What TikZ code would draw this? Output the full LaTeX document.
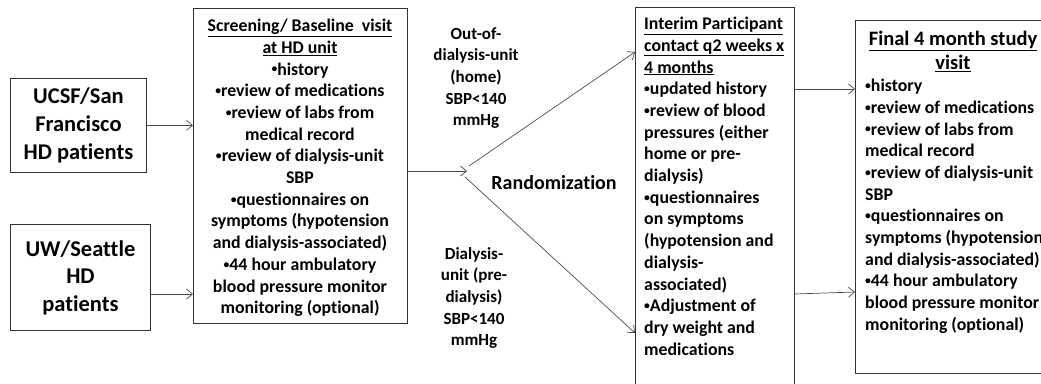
\documentclass[tikz,border=0pt]{standalone}
\usepackage{fontspec}
\setmainfont{Carlito}[Ligatures=NoCommon]
\usetikzlibrary{positioning,arrows.meta}
\newcommand{\bul}{\raisebox{0.25ex}{\scalebox{0.65}{•}}}
\tikzset{
  box/.style={draw=black!80, line width=0.9pt, anchor=north west, inner sep=0pt},
  body/.style={font=\bfseries\fontsize{17.8}{21.7}\selectfont, inner sep=0pt},
  lbl/.style={font=\bfseries\fontsize{17}{21.7}\selectfont, inner sep=0pt, align=center, anchor=north},
  arr/.style={-{Straight Barb[length=6pt,width=10pt]}, draw=black!70, line width=0.7pt},
}
\begin{document}
\begin{tikzpicture}[x=1pt,y=-1pt]
        \useasboundingbox (0,0) rectangle (1041,383);
        %% sites
        \node[box, minimum width=136pt, minimum height=94pt, align=center,
              font=\bfseries\fontsize{22.5}{28}\selectfont] (ucsf) at (10,78) {UCSF/San\\Francisco\\HD patients};
        \node[box, minimum width=140pt, minimum height=106pt, align=center,
              font=\bfseries\fontsize{22.5}{27.5}\selectfont] (uw) at (10,224) {UW/Seattle\\HD\\patients};
        
        %% screening visit
        \node[box, minimum width=214pt, minimum height=315pt] (screen) at (193,8) {};
        \node[body, align=center, anchor=north] (screentxt) at (300,19) {%
            \underline{Screening/ Baseline\ \ visit}\\
            \underline{at HD unit}\\
            \bul history\\
            \bul review of medications\\
            \bul review of labs from\\
            medical record\\
            \bul review of dialysis-unit\\
            SBP\\
            \bul questionnaires on\\
            symptoms (hypotension\\
            and dialysis-associated)\\
            \bul 44 hour ambulatory\\
            blood pressure monitor\\
            monitoring (optional)};
        
        %% randomization
        \coordinate (rand) at (467,171);
        \coordinate (randup) at (469,166);
        \coordinate (randdn) at (465,177);
        \node[font=\bfseries\fontsize{20}{24}\selectfont, inner sep=0pt] (randtxt) at (554,183) {Randomization};
        \node[lbl] (homelbl) at (476,27) {Out-of-\\dialysis-unit\\(home)\\SBP<140\\mmHg};
        \node[lbl] (unitlbl) at (474,247) {Dialysis-\\unit (pre-\\dialysis)\\SBP<140\\mmHg};
        
        %% interim contact
        \node[box, minimum width=159pt, minimum height=380pt] (interim) at (635,7) {};
        \node[body, align=left, anchor=north west] (interimtxt) at (644,17) {%
            \underline{Interim Participant}\\
            \underline{contact q2 weeks x}\\
            \underline{4 months}\\
            \bul updated history\\
            \bul review of blood\\
            pressures (either\\
            home or pre-\\
            dialysis)\\
            \bul questionnaires\\
            on symptoms\\
            (hypotension and\\
            dialysis-\\
            associated)\\
            \bul Adjustment of\\
            dry weight and\\
            medications};
        
        %% final visit
        \node[box, minimum width=190pt, minimum height=353pt] (final) at (855,20) {};
        \node[inner sep=0pt, align=center, anchor=north, font=\bfseries\fontsize{20.5}{24}\selectfont] (finalhead) at (953,31) {%
            \underline{Final 4 month study}\\\underline{visit}};
        \node[body, align=left, anchor=north west] (finaltxt) at (865,79) {%
            \bul history\\
            \bul review of medications\\
            \bul review of labs from\\
            medical record\\
            \bul review of dialysis-unit\\
            SBP\\
            \bul questionnaires on\\
            symptoms (hypotension\\
            and dialysis-associated)\\
            \bul 44 hour ambulatory\\
            blood pressure monitor\\
            monitoring (optional)};
        
        %% connectors
        \draw[arr] (ucsf.east) -- (ucsf.east -| screen.west);
        \draw[arr] (uw.east |- 0,294) -- (screen.west |- 0,294);
        \draw[arr] (screen.east |- rand) -- (rand);
        \draw[arr] (randup) -- (interim.west |- 0,52);
        \draw[arr] (randdn) -- (interim.west |- 0,333);
        \draw[arr] (interim.east |- 0,89) -- (final.west |- 0,89);
        \draw[arr] (interim.east |- 0,294) -- (final.west |- 0,292);
\end{tikzpicture}
\end{document}
